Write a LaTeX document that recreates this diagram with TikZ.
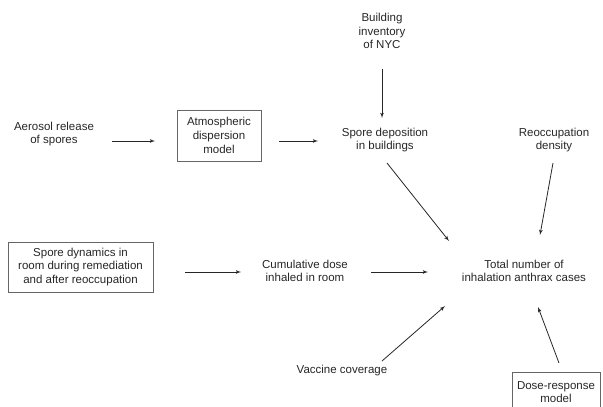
\documentclass[tikz,border=0pt]{standalone}
\usepackage{fontspec}
\setmainfont{Liberation Sans}
\usetikzlibrary{positioning}
\usetikzlibrary{arrows}
\tikzset{link/.style = {->,> = latex', black!85, line width=0.8pt}}

\begin{document}
\begin{tikzpicture}[x=1pt,y=1pt,
    plain node/.style={align=center,text=black!85,font=\fontsize{11.5}{13.7}\selectfont},
    box node/.style={plain node,draw=black!60,line width=0.9pt,inner sep=2pt}]
                \useasboundingbox (0,0) rectangle (603,407);
                \clip (0,0) rectangle (603,407);
                \node[plain node] (spore) at (385,267) {Spore deposition\\in buildings};
                \node[plain node] (building) [above of=spore, node distance=109pt, xshift=-3pt] {Building\\inventory\\of NYC};
                \node[box node, minimum width=84pt, minimum height=51pt] (atmos) [left of=spore, node distance=166pt, yshift=4.5pt] {Atmospheric\\dispersion\\model};
                \node[plain node] (aerosol) [left of=atmos, node distance=165pt, yshift=1.5pt] {Aerosol release\\of spores};
                \node[plain node] (reocc) [right of=spore, node distance=169pt] {Reoccupation\\density};

                \node[plain node] (total) at (524,136) {Total number of\\inhalation anthrax cases};
                \node[plain node] (cumul) [left of=total, node distance=219pt] {Cumulative dose\\inhaled in room};
                \node[box node, minimum width=145pt, minimum height=50pt] (dynamics) [left of=cumul, node distance=224.5pt, yshift=4pt] {Spore dynamics in\\room during remediation\\and after reoccupation};
                \node[plain node] (vaccine) [below of=cumul, node distance=100pt, xshift=37pt] {Vaccine coverage};
                \node[box node, minimum width=88pt, minimum height=40pt] (dose) [below of=total, node distance=121pt, xshift=32pt] {Dose-response\\model};

                \draw[link] ([xshift=58pt,yshift=-7pt]aerosol.center) -- ([xshift=-64pt,yshift=-5.5pt]atmos.center);
                \draw[link] ([xshift=60pt,yshift=-5.5pt]atmos.center) -- ([xshift=-67pt,yshift=-1pt]spore.center);
                \draw[link] ([yshift=-38pt]building.center) -- ([xshift=-3pt,yshift=22pt]spore.center);
                \draw[link] ([xshift=2pt,yshift=-23pt]spore.center) -- ([xshift=-75pt,yshift=30pt]total.center);
                \draw[link] ([xshift=-1pt,yshift=-23pt]reocc.center) -- ([xshift=16pt,yshift=36pt]total.center);
                \draw[link] ([xshift=104.5pt,yshift=-5pt]dynamics.center) -- ([xshift=-64pt,yshift=-1pt]cumul.center);
                \draw[link] ([xshift=66pt,yshift=-1pt]cumul.center) -- ([xshift=-96pt,yshift=-1pt]total.center);
                \draw[link] ([xshift=40pt,yshift=10pt]vaccine.center) -- ([xshift=-79pt,yshift=-35pt]total.center);
                \draw[link] ([xshift=3pt,yshift=29pt]dose.center) -- ([xshift=14pt,yshift=-36pt]total.center);
            \end{tikzpicture}
\end{document}
